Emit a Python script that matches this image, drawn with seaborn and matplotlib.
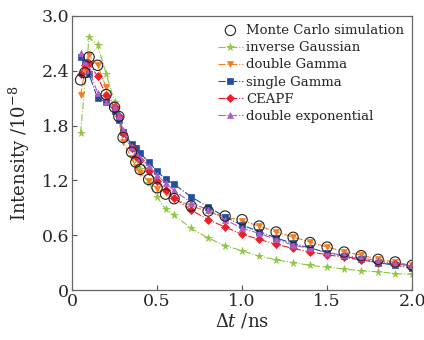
import numpy as np
import pandas as pd
import seaborn as sns
import matplotlib
matplotlib.use("Agg")
import matplotlib.pyplot as plt

# ---- data ----
x_all = [0.05, 0.075, 0.1, 0.15, 0.2, 0.25, 0.275, 0.3, 0.35, 0.375, 0.4, 0.45,
         0.5, 0.55, 0.6, 0.7, 0.8, 0.9, 1.0, 1.1, 1.2, 1.3, 1.4, 1.5, 1.6, 1.7,
         1.8, 1.9, 2.0]
monte_carlo = [2.30, 2.38, 2.55, 2.46, 2.14, 2.00, 1.90, 1.67, 1.51, 1.40, 1.32, 1.21,
               1.12, 1.05, 1.00, 0.92, 0.865, 0.81, 0.77, 0.70, 0.635, 0.577, 0.52, 0.47,
               0.416, 0.376, 0.336, 0.307, 0.27]
x_ig = [0.05, 0.1, 0.15, 0.2, 0.25, 0.275, 0.3, 0.35, 0.375, 0.4, 0.45,
        0.5, 0.55, 0.6, 0.7, 0.8, 0.9, 1.0, 1.1, 1.2, 1.3, 1.4, 1.5, 1.6, 1.7,
        1.8, 1.9, 2.0]
inverse_gaussian = [1.72, 2.77, 2.68, 2.37, 2.06, 1.90, 1.72, 1.55, 1.42, 1.33, 1.17,
                    1.02, 0.885, 0.82, 0.675, 0.57, 0.485, 0.43, 0.37, 0.33, 0.30, 0.27,
                    0.25, 0.23, 0.21, 0.20, 0.18, 0.17]
double_gamma = [2.13, 2.40, 2.57, 2.46, 2.22, 1.98, 1.86, 1.62, 1.45, 1.35, 1.28, 1.19,
                1.11, 1.06, 1.00, 0.92, 0.86, 0.80, 0.76, 0.70, 0.635, 0.58, 0.525, 0.47,
                0.42, 0.38, 0.34, 0.305, 0.27]
single_gamma = [2.55, 2.50, 2.36, 2.10, 2.06, 1.96, 1.86, 1.73, 1.60, 1.55, 1.50, 1.40,
                1.30, 1.21, 1.16, 1.02, 0.91, 0.80, 0.71, 0.64, 0.57, 0.51, 0.46, 0.41,
                0.37, 0.336, 0.30, 0.27, 0.24]
ceapf = [2.37, 2.46, 2.48, 2.34, 2.13, 2.00, 1.90, 1.72, 1.55, 1.47, 1.42, 1.30,
         1.19, 1.09, 1.01, 0.876, 0.77, 0.69, 0.61, 0.555, 0.50, 0.456, 0.416, 0.387,
         0.358, 0.33, 0.30, 0.285, 0.263]
double_exponential = [2.60, 2.50, 2.41, 2.16, 2.06, 2.00, 1.91, 1.75, 1.57, 1.50, 1.45, 1.36,
                      1.26, 1.17, 1.09, 0.956, 0.876, 0.77, 0.675, 0.62, 0.555, 0.49, 0.456,
                      0.41, 0.38, 0.35, 0.32, 0.29, 0.27]

x_ticks = [0, 0.5, 1.0, 1.5, 2.0]
x_ticklabels = ["0", "0.5", "1.0", "1.5", "2.0"]
y_ticks = [0, 0.6, 1.2, 1.8, 2.4, 3.0]
y_ticklabels = ["0", "0.6", "1.2", "1.8", "2.4", "3.0"]

sns.set_style("ticks")
plt.rcParams['font.family'] = ['DejaVu Serif']
plt.rcParams['mathtext.fontset'] = 'dejavuserif'

fig = plt.figure(figsize=(4.24, 3.40), dpi=100)
ax = fig.add_axes([0.170, 0.147, 0.802, 0.806])

sns.scatterplot(x=x_all, y=monte_carlo, ax=ax, marker='o', s=55,
                facecolor='none', edgecolor='#222222', linewidth=0.8,
                label='Monte Carlo simulation', zorder=5)

series = [
    (x_ig, inverse_gaussian, '#8dc63f', '*', 5.5, 'inverse Gaussian'),
    (x_all, double_gamma, '#f47c20', 'v', 5, 'double Gamma'),
    (x_all, single_gamma, '#1f4fa0', 's', 4, 'single Gamma'),
    (x_all, ceapf, '#e8202a', 'D', 3.8, 'CEAPF'),
    (x_all, double_exponential, '#b05cc0', '^', 5, 'double exponential'),
]
for xs, ys, col, mk, ms, lab in series:
    sns.lineplot(x=xs, y=ys, ax=ax, color=col, marker=mk, markersize=ms,
                 linestyle='-.', linewidth=0.8, markeredgecolor=col,
                 markeredgewidth=0.5, label=lab, sort=False)

ax.set_xlim(0, 2.0)
ax.set_ylim(0, 3.0)
ax.set_xticks(x_ticks)
ax.set_xticklabels(x_ticklabels)
ax.set_yticks(y_ticks)
ax.set_yticklabels(y_ticklabels)
ax.tick_params(direction='in', length=3.5, width=0.8, labelsize=12.5,
               color='#555555', pad=2)
for sp in ax.spines.values():
    sp.set_visible(True)
    sp.set_color('#666666')
    sp.set_linewidth(0.9)

ax.set_xlabel(r'$\Delta t$ /ns', fontsize=13, labelpad=1)
ax.set_ylabel(r'Intensity /10$^{-8}$', fontsize=13, labelpad=7)

leg = ax.legend(loc='upper right', bbox_to_anchor=(1.0, 1.0), frameon=False,
                fontsize=9.5, handlelength=1.9, handletextpad=0.25,
                labelspacing=0.32, borderaxespad=0.35, borderpad=0.25)

fig.savefig('out.png', dpi=100)
